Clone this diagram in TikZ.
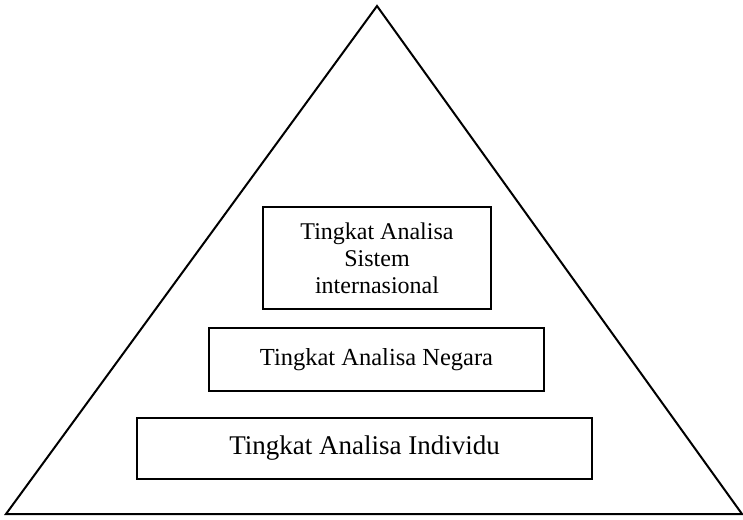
\documentclass[tikz,border=0pt]{standalone}
\usepackage{fontspec}
\setmainfont{Liberation Serif}
\begin{document}
\begin{tikzpicture}[x=1pt,y=1pt,line width=2pt,
  levelbox/.style={draw,align=center,inner sep=0pt,line width=2pt}]
\useasboundingbox (0,0) rectangle (743,519);
% the pyramid
\coordinate (apex) at (377,513);
\coordinate (bl) at (6,5);
\coordinate (br) at (742,5);
\draw (apex) -- (br) -- (bl) -- cycle;
% the levels of analysis
\node[levelbox,minimum width=228pt,minimum height=102pt,
  font=\fontsize{24}{27}\selectfont] (sistem) at (377,261)
  {Tingkat Analisa\\Sistem\\internasional};
\node[levelbox,minimum width=335pt,minimum height=63pt,
  font=\fontsize{24.5}{27}\selectfont] (negara) at (376.5,159.5)
  {Tingkat Analisa Negara};
\node[levelbox,minimum width=455pt,minimum height=61pt,
  font=\fontsize{27}{30}\selectfont] (individu) at (364.5,70.5)
  {Tingkat Analisa Individu};
\end{tikzpicture}
\end{document}
